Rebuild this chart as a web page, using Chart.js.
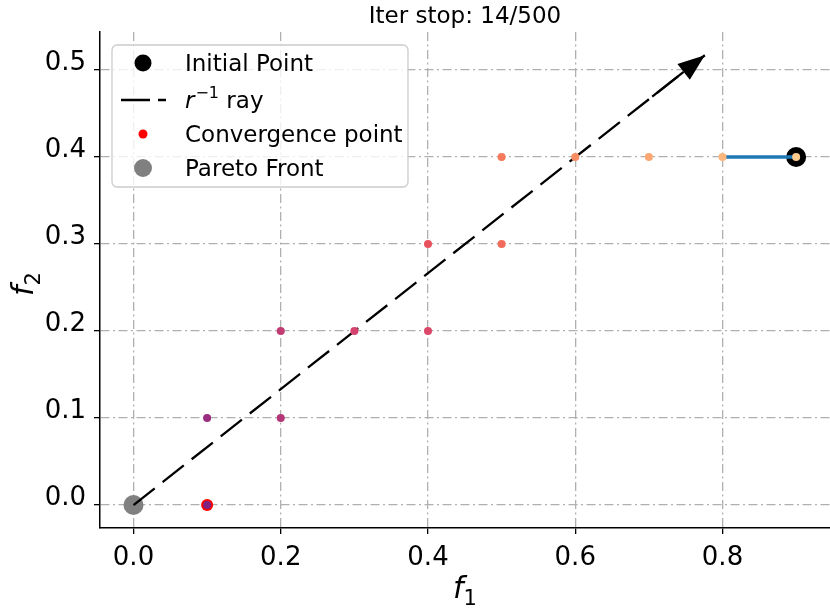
<!DOCTYPE html>
<html lang="en">
<head>
<meta charset="UTF-8" />
<title>Iter stop</title>
<script src="https://cdn.jsdelivr.net/npm/chart.js@4.4.1/dist/chart.umd.min.js"></script>
<style>
  body { margin: 0; background: #fff; }
  #wrap { width: 830px; height: 609px; }
</style>
</head>
<body>
<div id="wrap"><canvas id="myChart" width="830" height="609"></canvas></div>
<script>
// iterates, from the start point down to the convergence point
const iterX = [0.9, 0.8, 0.7, 0.6, 0.5, 0.5, 0.4, 0.4, 0.3, 0.2, 0.2, 0.1, 0.1];
const iterY = [0.4, 0.4, 0.4, 0.4, 0.4, 0.3, 0.3, 0.2, 0.2, 0.2, 0.1, 0.1, 0.0];
const iterColors = ['#fecb8f', '#fdb67d', '#fca672', '#f98c60', '#f5795a', '#f06b5b',
                    '#e8525f', '#dc4869', '#d4436e', '#c23c74', '#b33679', '#9a2d7f', '#7c2382'];
const initX = [0.9], initY = [0.4];
const pathX = [0.8, 0.9], pathY = [0.4, 0.4];
const convX = [0.1], convY = [0.0];
const paretoX = [0.0], paretoY = [0.0];
const rayX = [0.0, 0.776], rayY = [0.0, 0.517];
const xTicks = [0.0, 0.2, 0.4, 0.6, 0.8];
const yTicks = [0.0, 0.1, 0.2, 0.3, 0.4, 0.5];
const titleText = 'Iter stop: 14/500';
const legendLabels = ['Initial Point', 'ray', 'Convergence point', 'Pareto Front'];

function pts(xs, ys) { return xs.map((x, i) => ({x: x, y: ys[i]})); }

const FONT = "'DejaVu Sans', sans-serif";

// title, axis labels, arrow head, legend
const extras = {
  id: 'extras',
  afterDatasetsDraw(chart) {
    const ctx = chart.ctx, ca = chart.chartArea;
    const xs = chart.scales.x, ys = chart.scales.y;

    // arrow head at the end of the ray
    const x0 = xs.getPixelForValue(rayX[0]), y0 = ys.getPixelForValue(rayY[0]);
    const x1 = xs.getPixelForValue(rayX[1]), y1 = ys.getPixelForValue(rayY[1]);
    const ang = Math.atan2(y1 - y0, x1 - x0);
    const hl = 27, hw = 10;
    const bx = x1 - hl * Math.cos(ang), by = y1 - hl * Math.sin(ang);
    ctx.save();
    ctx.strokeStyle = '#000'; ctx.lineWidth = 2.3;
    ctx.beginPath();
    ctx.moveTo(bx - 40 * Math.cos(ang), by - 40 * Math.sin(ang));
    ctx.lineTo(bx, by); ctx.stroke();
    ctx.fillStyle = '#000';
    ctx.beginPath();
    ctx.moveTo(x1, y1);
    ctx.lineTo(bx + hw * Math.sin(ang), by - hw * Math.cos(ang));
    ctx.lineTo(bx - hw * Math.sin(ang), by + hw * Math.cos(ang));
    ctx.closePath(); ctx.fill();
    ctx.restore();

    // title
    ctx.save();
    ctx.fillStyle = '#000';
    ctx.font = '23px ' + FONT;
    ctx.textAlign = 'center'; ctx.textBaseline = 'alphabetic';
    ctx.fillText(titleText, (ca.left + ca.right) / 2, 23);

    // x label f_1
    const cx = (ca.left + ca.right) / 2;
    ctx.font = 'italic 30px ' + FONT;
    ctx.textAlign = 'left';
    const fw = ctx.measureText('f').width;
    ctx.font = '21px ' + FONT;
    const sw = ctx.measureText('1').width;
    let sx = cx - (fw + sw) / 2;
    ctx.font = 'italic 30px ' + FONT;
    ctx.fillText('f', sx, 598);
    ctx.font = '21px ' + FONT;
    ctx.fillText('1', sx + fw, 605);

    // y label f_2
    ctx.translate(33, (ca.top + ca.bottom) / 2 + 4);
    ctx.rotate(-Math.PI / 2);
    ctx.font = 'italic 30px ' + FONT;
    ctx.fillText('f', -(fw + sw) / 2, 0);
    ctx.font = '21px ' + FONT;
    ctx.fillText('2', -(fw + sw) / 2 + fw, 7);
    ctx.restore();

    // legend
    ctx.save();
    const lx = ca.left + 12, ly = ca.top + 13, lw = 296, lh = 142;
    ctx.beginPath();
    ctx.roundRect(lx, ly, lw, lh, 5);
    ctx.fillStyle = 'rgba(255,255,255,0.8)'; ctx.fill();
    ctx.strokeStyle = '#cccccc'; ctx.lineWidth = 1.3; ctx.stroke();
    const rows = [ly + 18, ly + 55, ly + 89, ly + 123];
    const mx = lx + 31, tx = lx + 73;
    // initial point
    ctx.fillStyle = '#000';
    ctx.beginPath(); ctx.arc(mx, rows[0], 8.5, 0, Math.PI * 2); ctx.fill();
    // ray
    ctx.strokeStyle = '#000'; ctx.lineWidth = 2.3;
    ctx.setLineDash([29, 8]);
    ctx.beginPath(); ctx.moveTo(lx + 9, rows[1]); ctx.lineTo(lx + 54, rows[1]); ctx.stroke();
    ctx.setLineDash([]);
    // convergence
    ctx.fillStyle = '#ff0000';
    ctx.beginPath(); ctx.arc(mx, rows[2], 4.5, 0, Math.PI * 2); ctx.fill();
    // pareto
    ctx.fillStyle = '#808080';
    ctx.beginPath(); ctx.arc(mx, rows[3], 9, 0, Math.PI * 2); ctx.fill();

    ctx.fillStyle = '#000';
    ctx.textAlign = 'left'; ctx.textBaseline = 'alphabetic';
    ctx.font = '23px ' + FONT;
    ctx.fillText(legendLabels[0], tx, rows[0] + 8);
    ctx.font = 'italic 23px ' + FONT;
    ctx.fillText('r', tx, rows[1] + 8);
    let rw = ctx.measureText('r').width;
    ctx.font = '16px ' + FONT;
    ctx.fillText('\u22121', tx + rw + 1, rows[1] - 2);
    let ew = ctx.measureText('\u22121').width;
    ctx.font = '23px ' + FONT;
    ctx.fillText(' ' + legendLabels[1], tx + rw + 1 + ew, rows[1] + 8);
    ctx.fillText(legendLabels[2], tx, rows[2] + 8);
    ctx.fillText(legendLabels[3], tx, rows[3] + 8);
    ctx.restore();
  }
};

const ctx = document.getElementById('myChart').getContext('2d');
const myChart = new Chart(ctx, {
  type: 'scatter',
  data: {
    datasets: [
      {
        label: 'iterates',
        data: pts(iterX, iterY),
        backgroundColor: iterColors,
        borderWidth: 0,
        pointRadius: 4,
        order: 1
      },
      {
        label: 'path',
        type: 'line',
        data: pts(pathX, pathY),
        borderColor: '#1f77b4',
        borderWidth: 3.5,
        pointRadius: 0,
        fill: false,
        order: 2
      },
      {
        label: 'Initial Point',
        data: pts(initX, initY),
        backgroundColor: '#000',
        borderWidth: 0,
        pointRadius: 10,
        order: 3
      },
      {
        label: 'Convergence point',
        data: pts(convX, convY),
        backgroundColor: '#ff0000',
        borderWidth: 0,
        pointRadius: 6,
        order: 4
      },
      {
        label: 'ray',
        type: 'line',
        data: pts(rayX, rayY),
        borderColor: '#000',
        borderWidth: 2.3,
        borderDash: [27, 10],
        pointRadius: 0,
        fill: false,
        order: 5
      },
      {
        label: 'Pareto Front',
        data: pts(paretoX, paretoY),
        backgroundColor: '#808080',
        borderWidth: 0,
        pointRadius: 10,
        order: 6
      }
    ]
  },
  options: {
    responsive: false,
    animation: false,
    devicePixelRatio: 1,
    layout: { autoPadding: false, padding: { top: 32, right: 0, left: 0, bottom: 0 } },
    plugins: {
      legend: { display: false },
      tooltip: { enabled: false },
      title: { display: false }
    },
    scales: {
      x: {
        type: 'linear',
        min: -0.0455,
        max: 0.946,
        afterFit: (s) => { s.height = 81; s.paddingLeft = 0; s.paddingRight = 0; },
        afterBuildTicks: (s) => { s.ticks = xTicks.map(v => ({value: v})); },
        grid: { color: '#b0b0b0', lineWidth: 1.3, tickColor: '#000', tickLength: 6, tickWidth: 1.3 },
        border: { color: '#000', width: 1.5, dash: [9, 3.5, 2, 3.5] },
        ticks: { color: '#000', padding: 9, font: { family: FONT, size: 26 },
                 maxRotation: 0, callback: (v) => v.toFixed(1) }
      },
      y: {
        type: 'linear',
        min: -0.0264,
        max: 0.5437,
        afterFit: (s) => { s.width = 100; s.paddingTop = 0; s.paddingBottom = 0; },
        afterBuildTicks: (s) => { s.ticks = yTicks.map(v => ({value: v})); },
        grid: { color: '#b0b0b0', lineWidth: 1.3, tickColor: '#000', tickLength: 6, tickWidth: 1.3 },
        border: { color: '#000', width: 1.5, dash: [9, 3.5, 2, 3.5] },
        ticks: { color: '#000', padding: 8, labelOffset: -7, font: { family: FONT, size: 26 },
                 callback: (v) => v.toFixed(1) }
      }
    }
  },
  plugins: [extras]
});
</script>
</body>
</html>
